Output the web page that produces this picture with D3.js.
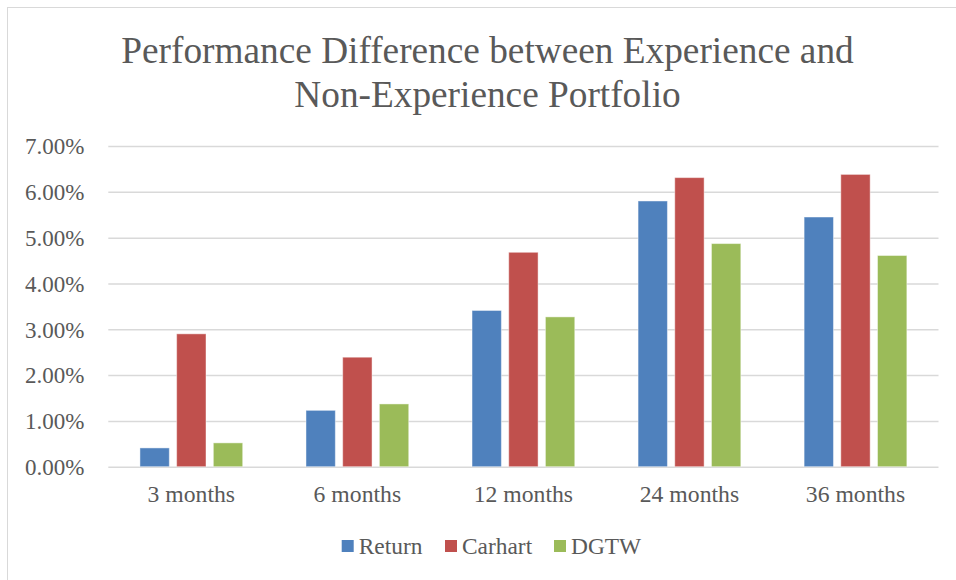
<!DOCTYPE html>
<html>
<head>
<meta charset="utf-8">
<script src="https://cdn.jsdelivr.net/npm/d3@7"></script>
<style>
  body { margin: 0; background: #fff; }
  svg text { font-family: "Liberation Serif", "Times New Roman", serif; fill: #595959; }
</style>
</head>
<body>
<svg id="chart" width="956" height="580"></svg>
<script>
var categories = ["3 months", "6 months", "12 months", "24 months", "36 months"];
var seriesNames = ["Return", "Carhart", "DGTW"];
var returnValues = [0.0041, 0.0123, 0.0341, 0.0580, 0.0545];
var carhartValues = [0.0290, 0.0239, 0.0468, 0.0631, 0.0638];
var dgtwValues = [0.0052, 0.0137, 0.0327, 0.0487, 0.0461];
var yTicks = [0, 0.01, 0.02, 0.03, 0.04, 0.05, 0.06, 0.07];
var colors = ["#4F81BD", "#C0504D", "#9BBB59"];

var rows = categories.map(function(c, i){
    return {cat: c, vals: [returnValues[i], carhartValues[i], dgtwValues[i]]};
});

var svg = d3.select("#chart");

// chart frame
svg.append("rect")
    .attr("x", 7.5).attr("y", 7.5)
    .attr("width", 1000).attr("height", 1000)
    .style("fill", "none").style("stroke", "#d9d9d9");

var plotLeft = 108.3, plotRight = 938.5, plotTop = 146, plotBottom = 466.7;

var x0 = d3.scaleBand().domain(categories).range([plotLeft, plotRight]);
var groupW = x0.bandwidth() * 0.663;
var x1 = d3.scaleBand().domain(seriesNames)
    .range([(x0.bandwidth() - groupW) / 2, (x0.bandwidth() + groupW) / 2])
    .paddingInner(0.2).paddingOuter(0.1);
var y = d3.scaleLinear().domain([0, 0.07]).range([plotBottom, plotTop]);

// title
var title = svg.append("text")
    .attr("text-anchor", "middle")
    .style("font-size", "37.3px");
title.append("tspan").attr("x", 487.5).attr("y", 63).text("Performance Difference between Experience and");
title.append("tspan").attr("x", 487.5).attr("y", 107).text("Non-Experience Portfolio");

// gridlines + y labels
var yAxis = d3.axisLeft(y).tickValues(yTicks).tickFormat(d3.format(".2%"))
    .tickSize(-(plotRight - plotLeft)).tickPadding(24);
var ga = svg.append("g").attr("transform", "translate(" + plotLeft + ",0)").call(yAxis)
    .attr("font-family", null);
ga.select(".domain").remove();
ga.selectAll(".tick line").style("stroke", "#d9d9d9").style("stroke-width", 1.5);
ga.selectAll(".tick text").style("font-size", "23px")
    .attr("dy", "0.34em");

// bars
var groups = svg.selectAll(".grp").data(rows).enter().append("g")
    .attr("class", "grp")
    .attr("transform", function(d){ return "translate(" + x0(d.cat) + ",0)"; });
groups.selectAll("rect").data(function(d){ return d.vals; }).enter().append("rect")
    .attr("x", function(d, i){ return x1(seriesNames[i]); })
    .attr("width", x1.bandwidth())
    .attr("y", function(d){ return y(d); })
    .attr("height", function(d){ return y(0) - y(d); })
    .style("fill", function(d, i){ return colors[i]; })
    .style("stroke", "#fff").style("stroke-opacity", 0.45).style("stroke-width", 1);

// category axis
var xAxis = d3.axisBottom(x0).tickSize(0).tickPadding(18);
var gx = svg.append("g").attr("transform", "translate(0," + plotBottom + ")").call(xAxis)
    .attr("font-family", null);
gx.select(".domain").remove();
gx.selectAll(".tick text").style("font-size", "23.7px");

// legend
var legendX = [341.7, 445, 554];
var leg = svg.selectAll(".leg").data(seriesNames).enter().append("g")
    .attr("class", "leg")
    .attr("transform", function(d, i){ return "translate(" + legendX[i] + ",540)"; });
leg.append("rect").attr("width", 12).attr("height", 12)
    .style("fill", function(d, i){ return colors[i]; });
leg.append("text").attr("x", 17).attr("y", 14).style("font-size", "23.4px")
    .text(function(d){ return d; });
</script>
</body>
</html>
